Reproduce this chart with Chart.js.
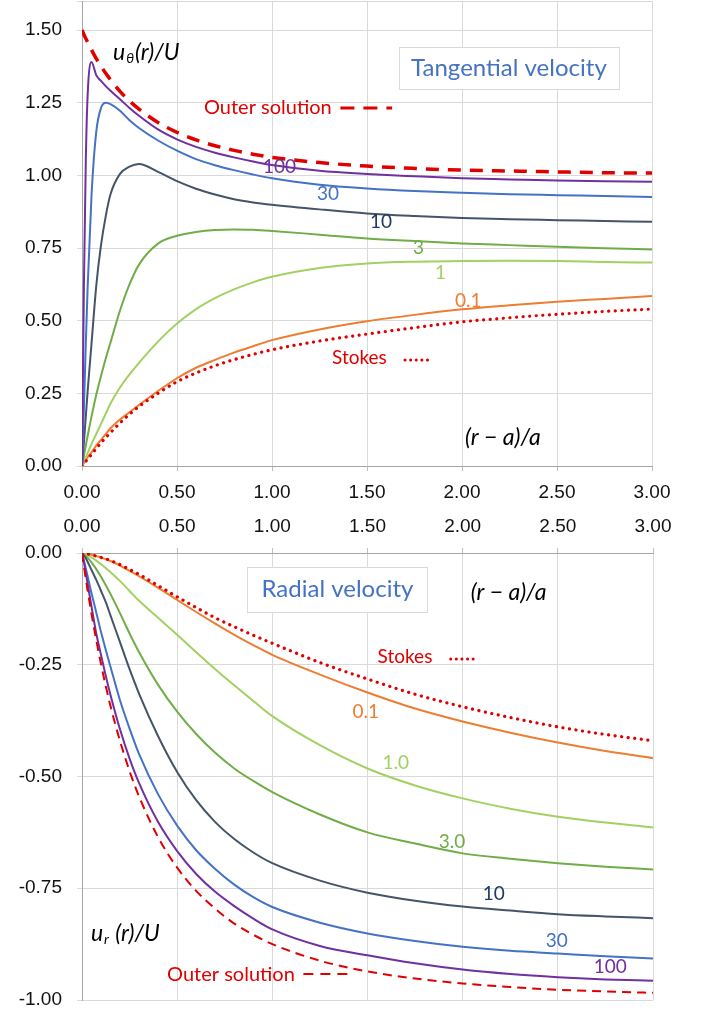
<!DOCTYPE html>
<html>
<head>
<meta charset="utf-8">
<script src="https://cdn.jsdelivr.net/npm/chart.js@4.4.1/dist/chart.umd.min.js"></script>
<style>
  html, body { margin: 0; padding: 0; background: #fff; }
  #wrap { position: relative; width: 704px; height: 1017px; }
  .box { position: absolute; left: 0; width: 704px; }
  #topBox { top: 0; height: 510px; }
  #botBox { top: 510px; height: 507px; }
</style>
</head>
<body>
<div id="wrap">
  <div class="box" id="topBox"><canvas id="tangChart"></canvas></div>
  <div class="box" id="botBox"><canvas id="radChart"></canvas></div>
</div>
<script>
// (r - a)/a sample points shared by every curve
const xs = [0, 0.01, 0.02, 0.03, 0.05, 0.075, 0.1, 0.125, 0.15, 0.2, 0.25, 0.3, 0.4, 0.5,
            0.6, 0.7, 0.8, 0.9, 1.0, 1.25, 1.5, 1.75, 2.0, 2.25, 2.5, 2.75, 3.0];

// tangential velocity u_theta(r)/U
const tanOuter  = [1.5, 1.485, 1.471, 1.458, 1.432, 1.402, 1.376, 1.351, 1.329, 1.289, 1.256, 1.228, 1.182, 1.148,
                   1.122, 1.102, 1.086, 1.073, 1.062, 1.044, 1.032, 1.024, 1.018, 1.015, 1.012, 1.009, 1.008];
const tanStokes = [0, 0.008, 0.016, 0.024, 0.04, 0.06, 0.08, 0.098, 0.115, 0.148, 0.178, 0.205, 0.25, 0.29,
                   0.32, 0.345, 0.366, 0.384, 0.4, 0.43, 0.454, 0.476, 0.496, 0.51, 0.522, 0.532, 0.54];
const tanRe100  = [0, 0.62, 1.05, 1.28, 1.39, 1.345, 1.325, 1.307, 1.291, 1.262, 1.232, 1.205, 1.158, 1.124,
                   1.098, 1.078, 1.062, 1.048, 1.036, 1.016, 1.005, 0.997, 0.99, 0.986, 0.982, 0.98, 0.978];
const tanRe30   = [0, 0.2, 0.42, 0.62, 0.93, 1.15, 1.232, 1.25, 1.245, 1.222, 1.19, 1.163, 1.12, 1.085,
                   1.056, 1.035, 1.018, 1.003, 0.99, 0.968, 0.955, 0.946, 0.94, 0.935, 0.932, 0.929, 0.926];
const tanRe10   = [0, 0.08, 0.17, 0.26, 0.42, 0.62, 0.76, 0.86, 0.935, 1.005, 1.03, 1.039, 1.012, 0.98,
                   0.954, 0.934, 0.918, 0.907, 0.899, 0.883, 0.869, 0.86, 0.853, 0.849, 0.846, 0.843, 0.84];
const tanRe3    = [0, 0.035, 0.07, 0.105, 0.17, 0.245, 0.31, 0.37, 0.425, 0.535, 0.625, 0.693, 0.765, 0.792,
                   0.805, 0.812, 0.814, 0.813, 0.809, 0.796, 0.783, 0.774, 0.766, 0.76, 0.754, 0.749, 0.745];
const tanRe1    = [0, 0.015, 0.03, 0.045, 0.075, 0.11, 0.145, 0.18, 0.215, 0.27, 0.315, 0.355, 0.428, 0.49,
                   0.54, 0.578, 0.608, 0.632, 0.651, 0.681, 0.697, 0.703, 0.705, 0.706, 0.705, 0.702, 0.7];
const tanRe01   = [0, 0.01, 0.02, 0.03, 0.047, 0.07, 0.09, 0.11, 0.13, 0.16, 0.185, 0.21, 0.258, 0.302,
                   0.338, 0.365, 0.39, 0.412, 0.433, 0.47, 0.498, 0.52, 0.539, 0.553, 0.565, 0.575, 0.585];

// radial velocity u_r(r)/U
const radOuter  = [0, -0.029, -0.058, -0.085, -0.136, -0.195, -0.249, -0.298, -0.343, -0.421, -0.488, -0.545, -0.636, -0.704,
                   -0.756, -0.796, -0.829, -0.854, -0.875, -0.912, -0.936, -0.952, -0.963, -0.971, -0.977, -0.981, -0.984];
const radStokes = [0, 0, -0.001, -0.002, -0.004, -0.007, -0.01, -0.013, -0.017, -0.026, -0.037, -0.048, -0.073, -0.098,
                   -0.122, -0.145, -0.165, -0.184, -0.202, -0.245, -0.282, -0.316, -0.344, -0.368, -0.389, -0.406, -0.42];
const radRe100  = [0, -0.02, -0.045, -0.07, -0.12, -0.18, -0.228, -0.275, -0.318, -0.395, -0.46, -0.515, -0.602, -0.667,
                   -0.718, -0.758, -0.79, -0.818, -0.842, -0.879, -0.9, -0.918, -0.932, -0.942, -0.949, -0.954, -0.957];
const radRe30   = [0, -0.017, -0.035, -0.053, -0.09, -0.133, -0.177, -0.217, -0.255, -0.33, -0.393, -0.45, -0.54, -0.61,
                   -0.665, -0.707, -0.742, -0.77, -0.792, -0.827, -0.851, -0.868, -0.881, -0.89, -0.896, -0.902, -0.907];
const radRe10   = [0, -0.005, -0.012, -0.02, -0.038, -0.06, -0.085, -0.11, -0.14, -0.2, -0.26, -0.315, -0.41, -0.49,
                   -0.553, -0.602, -0.64, -0.67, -0.694, -0.733, -0.76, -0.778, -0.791, -0.8, -0.808, -0.813, -0.817];
const radRe3    = [0, -0.003, -0.007, -0.011, -0.021, -0.036, -0.053, -0.072, -0.092, -0.135, -0.18, -0.222, -0.295, -0.355,
                   -0.405, -0.447, -0.482, -0.51, -0.535, -0.585, -0.625, -0.65, -0.672, -0.684, -0.694, -0.702, -0.708];
const radRe1    = [0, -0.001, -0.003, -0.005, -0.01, -0.017, -0.025, -0.034, -0.043, -0.063, -0.085, -0.107, -0.145, -0.183,
                   -0.222, -0.26, -0.296, -0.331, -0.365, -0.43, -0.482, -0.52, -0.549, -0.572, -0.59, -0.603, -0.614];
const radRe01   = [0, 0, -0.001, -0.002, -0.004, -0.007, -0.01, -0.014, -0.018, -0.028, -0.04, -0.052, -0.078, -0.105,
                   -0.132, -0.158, -0.183, -0.206, -0.228, -0.272, -0.312, -0.348, -0.377, -0.402, -0.424, -0.443, -0.459];

// tick values
const xTicks = [0, 0.5, 1.0, 1.5, 2.0, 2.5, 3.0];
const tanTicks = [0, 0.25, 0.5, 0.75, 1.0, 1.25, 1.5, 1.6];
const radTicks = [-1.0, -0.75, -0.5, -0.25, 0];

const RED = '#E00000';
const colors = {
  re100: '#7030A0', re30: '#4472C4', re10: '#44546A',
  re3: '#70AD47', re1: '#A2D163', re01: '#ED7D31'
};

const pts = arr => xs.map((x, i) => ({ x: x, y: arr[i] }));

function curve(arr, color) {
  return { data: pts(arr), borderColor: color, borderWidth: 2, pointRadius: 0,
           cubicInterpolationMode: 'monotone', fill: false };
}

function buildDatasets(outer, stokes, r100, r30, r10, r3, r1, r01, outerWidth, outerDash) {
  return [
    Object.assign(curve(outer, RED), { borderWidth: outerWidth, borderDash: outerDash }),
    Object.assign(curve(stokes, RED), { borderWidth: 3.2, borderDash: [0.1, 6.5], borderCapStyle: 'round' }),
    curve(r100, colors.re100),
    curve(r30, colors.re30),
    curve(r10, colors.re10),
    curve(r3, colors.re3),
    curve(r1, colors.re1),
    curve(r01, colors.re01)
  ];
}

// text and key marks drawn on top of the plot, positioned in data units
const tanNotes = [
  { kind: 'box', x1: 1.668, x2: 2.826, y1: 1.441, y2: 1.297, text: 'Tangential velocity', color: '#4472C4', size: 24 },
  { kind: 'math', x: 0.163, y: 1.424, parts: [['u', 23, 0], ['\u03b8', 14, 3], ['(r)/U', 23, 0]] },
  { kind: 'text', x: 0.642, y: 1.232, text: 'Outer solution', color: RED, size: 20 },
  { kind: 'line', x1: 1.36, x2: 1.632, y: 1.232, color: RED, width: 3, dash: [14, 9], cap: 'butt' },
  { kind: 'text', x: 0.953, y: 1.029, text: '100', color: colors.re100, size: 19 },
  { kind: 'text', x: 1.237, y: 0.936, text: '30', color: colors.re30, size: 19 },
  { kind: 'text', x: 1.516, y: 0.839, text: '10', color: '#1F3864', size: 19 },
  { kind: 'text', x: 1.742, y: 0.75, text: '3', color: colors.re3, size: 19 },
  { kind: 'text', x: 1.858, y: 0.664, text: '1', color: colors.re1, size: 19 },
  { kind: 'text', x: 1.963, y: 0.568, text: '0.1', color: colors.re01, size: 19 },
  { kind: 'text', x: 1.316, y: 0.372, text: 'Stokes', color: RED, size: 19 },
  { kind: 'line', x1: 1.70, x2: 1.821, y: 0.365, color: RED, width: 3, dash: [0.1, 5.5], cap: 'round' },
  { kind: 'math', x: 2.016, y: 0.1, parts: [['(r \u2212 a)/a', 23, 0]] }
];

const radNotes = [
  { kind: 'box', x1: 0.868, x2: 1.816, y1: -0.031, y2: -0.132, text: 'Radial velocity', color: '#4472C4', size: 24 },
  { kind: 'math', x: 2.042, y: -0.087, parts: [['(r \u2212 a)/a', 23, 0]] },
  { kind: 'text', x: 1.553, y: -0.233, text: 'Stokes', color: RED, size: 19 },
  { kind: 'line', x1: 1.937, x2: 2.063, y: -0.237, color: RED, width: 3, dash: [0.1, 5.5], cap: 'round' },
  { kind: 'text', x: 1.421, y: -0.356, text: '0.1', color: colors.re01, size: 19 },
  { kind: 'text', x: 1.579, y: -0.47, text: '1.0', color: colors.re1, size: 19 },
  { kind: 'text', x: 1.874, y: -0.647, text: '3.0', color: colors.re3, size: 19 },
  { kind: 'text', x: 2.105, y: -0.763, text: '10', color: '#1F3864', size: 19 },
  { kind: 'text', x: 2.437, y: -0.868, text: '30', color: colors.re30, size: 19 },
  { kind: 'text', x: 2.689, y: -0.926, text: '100', color: colors.re100, size: 19 },
  { kind: 'math', x: 0.047, y: -0.85, parts: [['u', 23, 0], ['r', 14, 3], [' (r)/U', 23, 0]] },
  { kind: 'text', x: 0.447, y: -0.942, text: 'Outer solution', color: RED, size: 20 },
  { kind: 'line', x1: 1.163, x2: 1.41, y: -0.942, color: RED, width: 2, dash: [10, 7], cap: 'butt' }
];

const FONT = 'Lato, "Open Sans", sans-serif';

function notesPlugin(notes) {
  return {
    id: 'notes',
    afterDatasetsDraw(chart) {
      const ctx = chart.ctx;
      const sx = chart.scales.x, sy = chart.scales.y;
      ctx.save();
      notes.forEach(n => {
        if (n.kind === 'box') {
          const l = sx.getPixelForValue(n.x1), r = sx.getPixelForValue(n.x2);
          const t = sy.getPixelForValue(n.y1), b = sy.getPixelForValue(n.y2);
          ctx.fillStyle = '#fff';
          ctx.fillRect(l, t, r - l, b - t);
          ctx.strokeStyle = '#D9D9D9';
          ctx.lineWidth = 1;
          ctx.strokeRect(Math.round(l) + 0.5, Math.round(t) + 0.5, Math.round(r - l), Math.round(b - t));
          ctx.font = n.size + 'px ' + FONT;
          ctx.fillStyle = n.color;
          ctx.textAlign = 'center';
          ctx.textBaseline = 'middle';
          ctx.fillText(n.text, (l + r) / 2, (t + b) / 2);
        } else if (n.kind === 'text') {
          ctx.font = n.size + 'px ' + FONT;
          ctx.fillStyle = n.color;
          ctx.textAlign = 'left';
          ctx.textBaseline = 'middle';
          ctx.fillText(n.text, sx.getPixelForValue(n.x), sy.getPixelForValue(n.y));
        } else if (n.kind === 'math') {
          let px = sx.getPixelForValue(n.x);
          const py = sy.getPixelForValue(n.y);
          ctx.fillStyle = '#000';
          ctx.textAlign = 'left';
          ctx.textBaseline = 'alphabetic';
          const base = py + 8;
          n.parts.forEach(p => {
            ctx.font = 'italic ' + p[1] + 'px ' + FONT;
            ctx.fillText(p[0], px, base + p[2]);
            px += ctx.measureText(p[0]).width + 1;
          });
        } else if (n.kind === 'line') {
          ctx.strokeStyle = n.color;
          ctx.lineWidth = n.width;
          ctx.lineCap = n.cap;
          ctx.setLineDash(n.dash);
          const py = sy.getPixelForValue(n.y);
          ctx.beginPath();
          ctx.moveTo(sx.getPixelForValue(n.x1), py);
          ctx.lineTo(sx.getPixelForValue(n.x2), py);
          ctx.stroke();
          ctx.setLineDash([]);
        }
      });
      ctx.restore();
    }
  };
}

const tickFont = { family: '"Liberation Sans", Arial, sans-serif', size: 19 };
const GRID = '#D9D9D9';
const AXIS = '#A6A6A6';

function makeChart(canvasId, datasets, yMin, yMax, yTicks, xPos, xHeight, padding, notes, hideTop) {
  return new Chart(document.getElementById(canvasId), {
    type: 'line',
    data: { datasets: datasets },
    options: {
      responsive: true,
      maintainAspectRatio: false,
      animation: false,
      layout: { padding: padding },
      plugins: { legend: { display: false }, tooltip: { enabled: false } },
      scales: {
        x: {
          type: 'linear', position: xPos, min: 0, max: 3,
          afterBuildTicks: s => { s.ticks = xTicks.map(v => ({ value: v })); },
          afterFit: s => { s.height = xHeight; s.paddingLeft = 0; s.paddingRight = 0; },
          ticks: { font: tickFont, color: '#111', padding: 10, maxRotation: 0,
                   callback: v => Number(v).toFixed(2) },
          grid: { color: GRID, lineWidth: 1, tickLength: 5, tickColor: '#BFBFBF' },
          border: { color: AXIS, width: 1 }
        },
        y: {
          type: 'linear', min: yMin, max: yMax,
          afterBuildTicks: s => { s.ticks = yTicks.map(v => ({ value: v })); },
          afterFit: s => { s.width = 82; s.paddingTop = 0; s.paddingBottom = 0; },
          ticks: { font: tickFont, color: '#111', padding: 15,
                   callback: v => (hideTop && v === yMax) ? '' : Number(v).toFixed(2) },
          grid: { color: GRID, lineWidth: 1, tickLength: 5, tickColor: GRID },
          border: { color: AXIS, width: 1 }
        }
      }
    },
    plugins: [notesPlugin(notes)]
  });
}

makeChart('tangChart',
  buildDatasets(tanOuter, tanStokes, tanRe100, tanRe30, tanRe10, tanRe3, tanRe1, tanRe01, 3.5, [13, 9]),
  0, 1.6, tanTicks, 'bottom', 44, { top: 1, right: 52, left: 0, bottom: 0 }, tanNotes, true);

makeChart('radChart',
  buildDatasets(radOuter, radStokes, radRe100, radRe30, radRe10, radRe3, radRe1, radRe01, 2, [9, 6]),
  -1, 0, radTicks, 'top', 43, { top: 0, right: 51, left: 0, bottom: 17 }, radNotes, false);
</script>
</body>
</html>
